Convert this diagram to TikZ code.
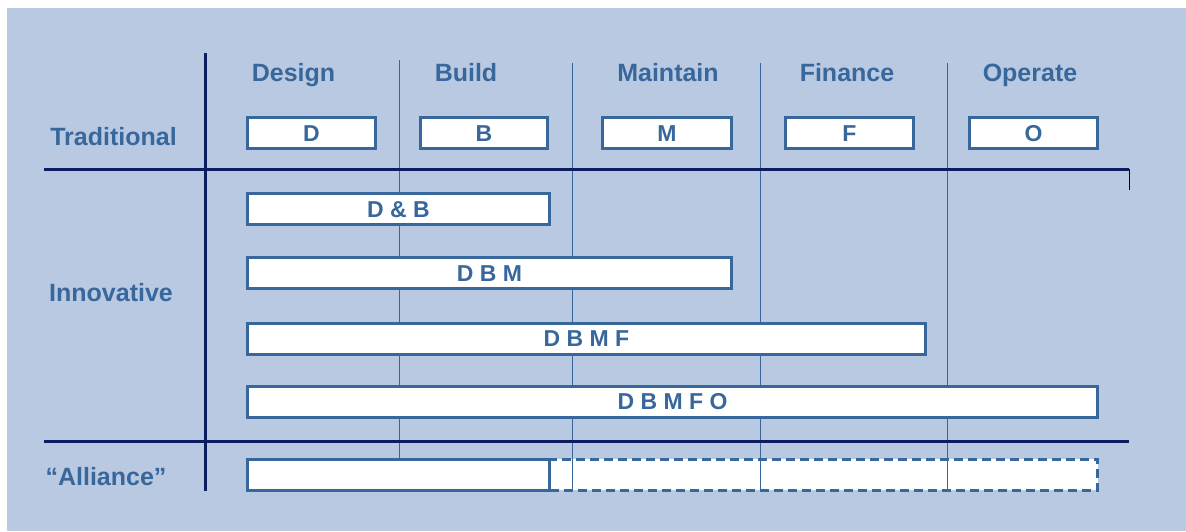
\documentclass[tikz,border=0pt]{standalone}
\usepackage{fontspec}
\setmainfont{Liberation Sans}
\definecolor{panel}{RGB}{185,201,225}
\definecolor{steel}{RGB}{56,103,156}
\definecolor{navy}{RGB}{10,30,95}
\begin{document}
\begin{tikzpicture}[x=1pt, y=-1pt,
    lbl/.style={text=steel, font=\fontsize{25}{29}\selectfont\bfseries, anchor=base},
    box/.style={draw=steel, line width=3pt, fill=white, text=steel,
        font=\fontsize{23}{27}\selectfont\bfseries, text height=16.5pt,
        text depth=0pt, minimum height=31pt, inner sep=0pt},
    grid/.style={draw=steel, line width=1.3pt},
    rule/.style={draw=navy, line width=3pt}]
    \useasboundingbox (0, 0) rectangle (1186, 531);
    \fill[panel] (7, 8) rectangle (1186, 531);
    % headers and row labels
    \node[lbl] (design) at (293.5, 81) {Design};
    \node[lbl] (build) at (466, 81) {Build};
    \node[lbl] (maintain) at (668, 81) {Maintain};
    \node[lbl] (finance) at (847, 81) {Finance};
    \node[lbl] (operate) at (1030, 81) {Operate};
    \node[lbl] (trad) at (113.5, 145) {Traditional};
    \node[lbl] (innov) at (111, 301) {Innovative};
    \node[lbl] (alliance) at (106, 485) {“Alliance”};
    % dashed part of the alliance bar sits under the column lines
    \node[box, dashed, dash pattern=on 9pt off 5pt, minimum width=548pt] (allrest) at (823.5, 474.5) {};
    \draw[grid] (399.5, 60) -- (399.5, 491);
    \draw[grid] (572.5, 63) -- (572.5, 491);
    \draw[grid] (760.5, 63) -- (760.5, 491);
    \draw[grid] (947.5, 63) -- (947.5, 491);
    % traditional row
    \node[box, minimum width=128pt] (d) at (311.5, 133) {D};
    \node[box, minimum width=127pt] (b) at (484, 133) {B};
    \node[box, minimum width=129pt] (m) at (667, 133) {M};
    \node[box, minimum width=128pt] (f) at (849.5, 133) {F};
    \node[box, minimum width=128pt] (o) at (1033.5, 133) {O};
    % innovative bars
    \node[box, minimum width=302pt] (db) at (398.5, 209) {D \& B};
    \node[box, minimum width=484pt] (dbm) at (489.5, 273) {D B M};
    \node[box, minimum width=678pt] (dbmf) at (586.5, 338.5) {D B M F};
    \node[box, minimum width=850pt] (dbmfo) at (672.5, 401.5) {D B M F O};
    % alliance
    \node[box, minimum width=302pt] (allfirst) at (398.5, 474.5) {};
    % frame
    \draw[rule] (205.5, 53) -- (205.5, 491);
    \draw[rule] (44, 169.5) -- (1129, 169.5);
    \draw[rule] (44, 441.5) -- (1129, 441.5);
    \draw[black, line width=1pt] (1129, 169) -- (1129, 190);
\end{tikzpicture}
\end{document}
